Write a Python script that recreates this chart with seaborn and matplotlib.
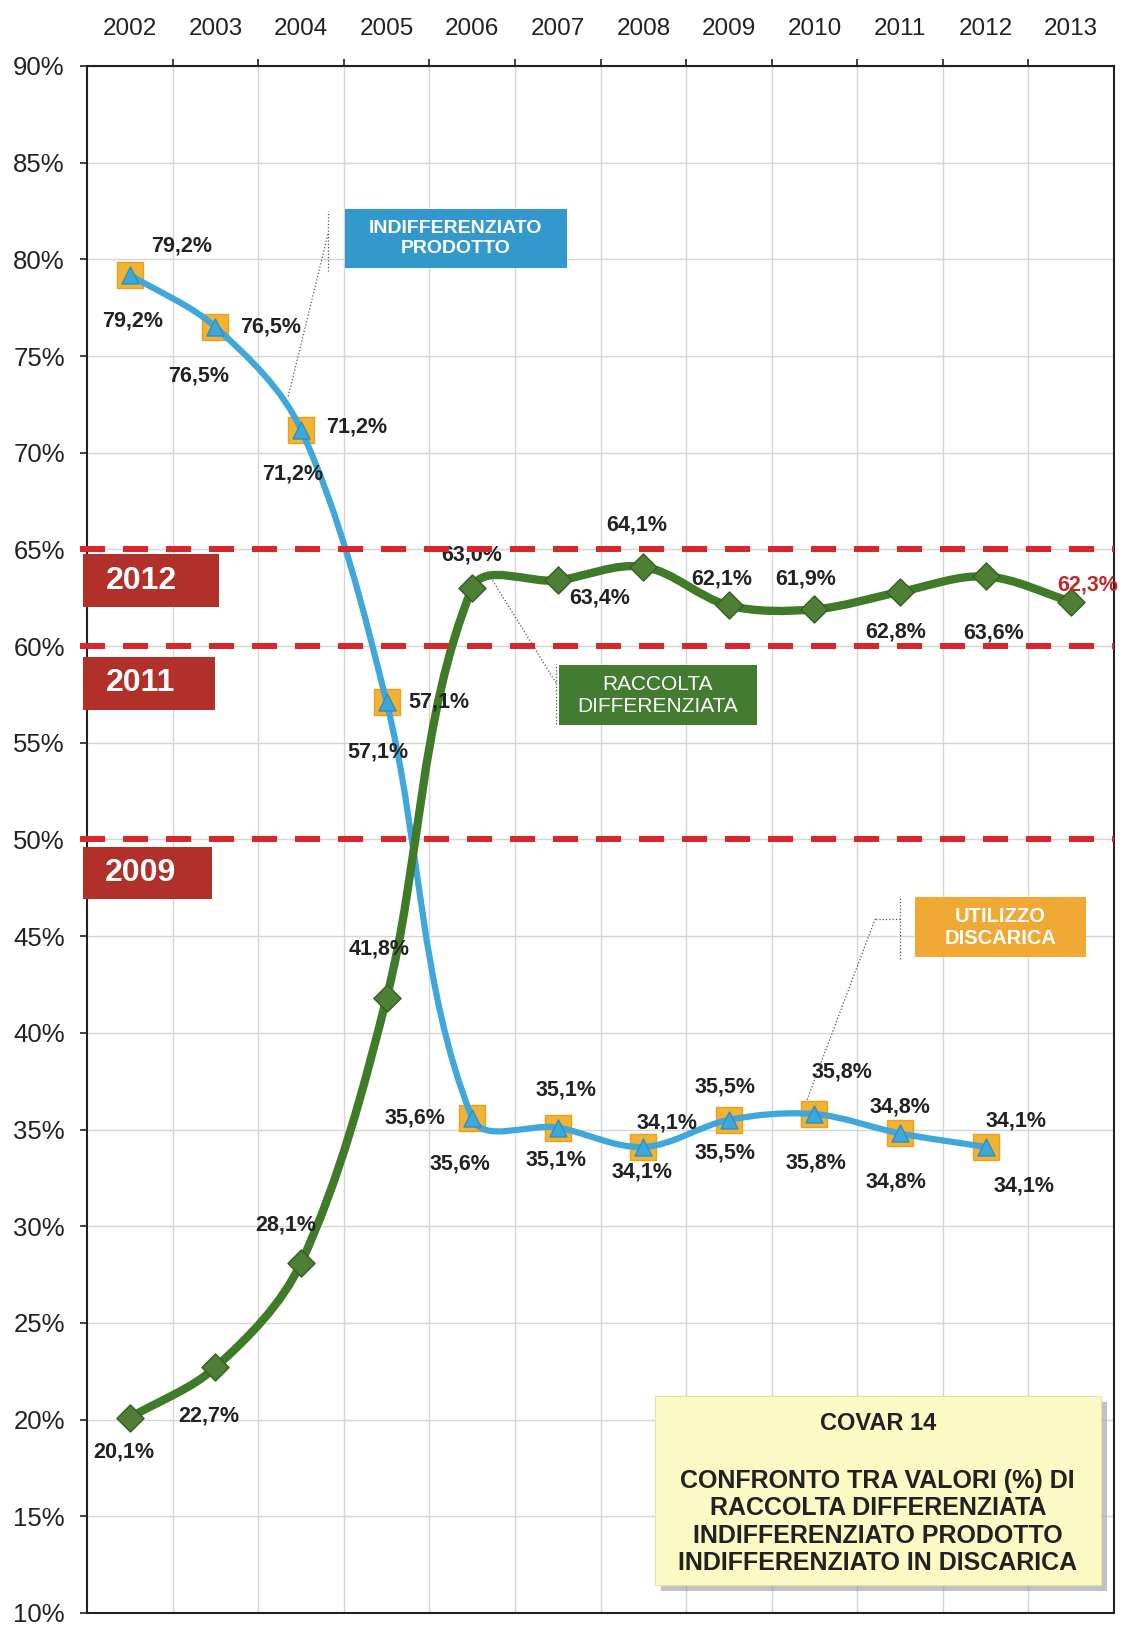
import numpy as np
import pandas as pd
import seaborn as sns
import matplotlib.pyplot as plt
from matplotlib.path import Path
from matplotlib.patches import PathPatch, Rectangle

# dati (%)
years = ['2002', '2003', '2004', '2005', '2006', '2007', '2008', '2009', '2010', '2011', '2012', '2013']
raccolta = [20.1, 22.7, 28.1, 41.8, 63.0, 63.4, 64.1, 62.1, 61.9, 62.8, 63.6, 62.3]
indiff_prodotto = [79.2, 76.5, 71.2, 57.1, 35.6, 35.1, 34.1, 35.5, 35.8, 34.8, 34.1]
discarica = [79.2, 76.5, 71.2, 57.1, 35.6, 35.1, 34.1, 35.5, 35.8, 34.8, 34.1]
soglie = [65, 60, 50]
soglie_anni = ['2012', '2011', '2009']

# label offsets (points)
off_green = [(-4, -25), (-5, -35), (-11, 27), (-5, 35), (0, 24), (30, -13),
             (-5, 30), (-5, 19), (-6, 22), (-3, -29), (6, -41), (12, 12)]
off_orange = [(37, 21), (40, 0), (40, 2), (38, 0), (-41, 0), (6, 27),
              (17, 17), (-3, 24), (20, 30), (0, 19), (22, 19)]
off_blue = [(2, -33), (-12, -35), (-6, -32), (-6, -36), (-9, -33), (-1, -23),
            (-1, -18), (-3, -24), (1, -35), (-3, -35), (28, -28)]

GREEN = '#3f7b28'
BLUE = '#3fa7d9'
ORANGE = '#f2b233'
RED = '#d8262a'
DARKRED = '#b2302a'

sns.set_style('white')
plt.rcParams['font.family'] = ['Liberation Sans', 'DejaVu Sans']

df_r = pd.DataFrame({'x': range(len(raccolta)), 'y': raccolta})
df_i = pd.DataFrame({'x': range(len(indiff_prodotto)), 'y': indiff_prodotto})
df_d = pd.DataFrame({'x': range(len(discarica)), 'y': discarica})

fig = plt.figure(figsize=(11.23, 16.25), dpi=100)
ax = fig.add_axes([0.0775, 0.0074, 0.9145, 0.952])
ax.set_xlim(-0.5, len(years) - 0.5)
ax.set_ylim(10, 90)


def smooth_path(xs, ys):
    # excel-like smoothed line, built in screen space
    pts = ax.transData.transform(np.column_stack([xs, ys]))
    n = len(pts)
    tang = []
    for i in range(n):
        d = pts[min(i + 1, n - 1)] - pts[max(i - 1, 0)]
        tang.append(d / np.hypot(*d))
    verts = [pts[0]]
    codes = [Path.MOVETO]
    for i in range(n - 1):
        L = np.hypot(*(pts[i + 1] - pts[i])) / 3
        verts += [pts[i] + tang[i] * L, pts[i + 1] - tang[i + 1] * L, pts[i + 1]]
        codes += [Path.CURVE4] * 3
    verts = ax.transData.inverted().transform(np.array(verts))
    return Path(verts, codes)


# discarica squares
sns.scatterplot(data=df_d, x='x', y='y', marker='s', s=330, color=ORANGE,
                edgecolor='#e9a21a', linewidth=1, ax=ax, zorder=3)
# indifferenziato prodotto
ax.add_patch(PathPatch(smooth_path(df_i.x, df_i.y), fill=False, ec=BLUE, lw=4.5,
                       capstyle='round', joinstyle='round', zorder=4))
sns.scatterplot(data=df_i, x='x', y='y', marker='^', s=150, color=BLUE,
                edgecolor='#2f8fc0', linewidth=1, ax=ax, zorder=5)
# raccolta differenziata
ax.add_patch(PathPatch(smooth_path(df_r.x, df_r.y), fill=False, ec=GREEN, lw=6,
                       capstyle='round', joinstyle='round', zorder=6))
sns.scatterplot(data=df_r, x='x', y='y', marker='D', s=190, color='#4d7f34',
                edgecolor='#355f22', linewidth=1, ax=ax, zorder=7)


def fmt(v):
    return f"{v:.1f}%".replace('.', ',')


lab = dict(textcoords='offset points', ha='center', va='center', fontsize=15.5,
           fontweight='bold', color='#222222', zorder=8)
for i, v in enumerate(raccolta):
    kw = dict(lab)
    if i == len(raccolta) - 1:
        kw['color'] = '#c0282a'
    ax.annotate(fmt(v), (i, v), xytext=off_green[i], **kw)
for i, v in enumerate(discarica):
    ax.annotate(fmt(v), (i, v), xytext=off_orange[i], **lab)
for i, v in enumerate(indiff_prodotto):
    ax.annotate(fmt(v), (i, v), xytext=off_blue[i], **lab)

# soglie
box_y = [(62.0, 64.75, 1.04), (56.7, 59.45, 1.0), (46.9, 49.6, 0.96)]
for s, anno, (y0, y1, x1) in zip(soglie, soglie_anni, box_y):
    ax.plot([-0.58, 11.5], [s, s], color=RED, lw=4.3, ls=(0, (4.2, 3.0)),
            clip_on=False, zorder=9)
    ax.add_patch(Rectangle((-0.55, y0), x1 + 0.55, y1 - y0, fc=DARKRED, ec='none',
                           clip_on=False, zorder=10))
    ax.text(0.13, (y0 + y1) / 2, anno, color='white', fontsize=23, fontweight='bold',
            ha='center', va='center', zorder=11)

# callout boxes
callouts = [
    ((2.51, 79.55), 2.6, 3.05, '#3399cc', 'INDIFFERENZIATO\nPRODOTTO', 'bold', 14),
    ((5.01, 55.9), 2.32, 3.1, '#437b30', 'RACCOLTA\nDIFFERENZIATA', 'normal', 15),
    ((9.18, 43.9), 1.99, 3.1, '#f0a935', 'UTILIZZO\nDISCARICA', 'bold', 14.5),
]
for (x0, y0), w, h, c, t, wgt, fs in callouts:
    ax.add_patch(Rectangle((x0, y0), w, h, fc=c, ec='none', zorder=10))
    ax.text(x0 + w / 2, y0 + h / 2, t, color='white', fontsize=fs, fontweight=wgt,
            ha='center', va='center', linespacing=1.2, zorder=11)

lead = dict(color='#555555', lw=0.9, ls=':', zorder=9)
ax.plot([2.315, 2.315], [79.4, 82.5], **lead)
ax.plot([2.315, 1.85], [81.3, 72.9], **lead)
ax.plot([4.98, 4.98], [55.95, 59.1], **lead)
ax.plot([4.98, 4.21], [58.1, 63.6], **lead)
ax.plot([9.0, 9.0], [43.8, 47.0], **lead)
ax.plot([9.0, 8.71], [45.9, 45.9], **lead)
ax.plot([8.71, 7.91], [45.9, 36.5], **lead)

# riquadro titolo
ax.add_patch(Rectangle((6.21, 11.15), 5.21, 9.75, fc='#9a9a9a', ec='none', alpha=0.6, zorder=10))
ax.add_patch(Rectangle((6.14, 11.45), 5.21, 9.75, fc='#fbf9c4', ec='#e6e3a8', lw=0.8, zorder=10))
ax.text(8.74, 19.8, 'COVAR 14', fontsize=17, fontweight='bold', color='#222222',
        ha='center', va='center', zorder=11)
ax.text(8.74, 14.7, 'CONFRONTO TRA VALORI (%) DI\nRACCOLTA DIFFERENZIATA\n'
        'INDIFFERENZIATO PRODOTTO\nINDIFFERENZIATO IN DISCARICA',
        fontsize=18, fontweight='bold', color='#222222', ha='center', va='center',
        linespacing=1.18, zorder=11)

# axes
ax.xaxis.tick_top()
ax.set_xticks(range(len(years)))
ax.set_xticklabels(years, fontsize=17.5, color='#222222')
ax.set_xticks(np.arange(0.5, len(years) - 0.5, 1), minor=True)
ax.tick_params(axis='x', which='major', length=0, pad=19)
ax.tick_params(axis='x', which='minor', length=5, width=1.2, color='#222222', top=True)
ax.set_yticks(np.arange(10, 91, 5))
ax.set_yticklabels([f"{v}%" for v in range(10, 91, 5)], fontsize=18.5, color='#222222')
ax.tick_params(axis='y', length=5, width=1.2, color='#222222', left=True, pad=11)
ax.grid(False)
ax.grid(True, which='minor', axis='x', color='#d6d6d6', lw=1, zorder=0)
ax.grid(True, which='major', axis='y', color='#d6d6d6', lw=1, zorder=0)
ax.set_axisbelow(True)
ax.set_xlabel('')
ax.set_ylabel('')
for sp in ax.spines.values():
    sp.set_color('#222222')
    sp.set_linewidth(1.5)

fig.savefig('out.png', dpi=100)
